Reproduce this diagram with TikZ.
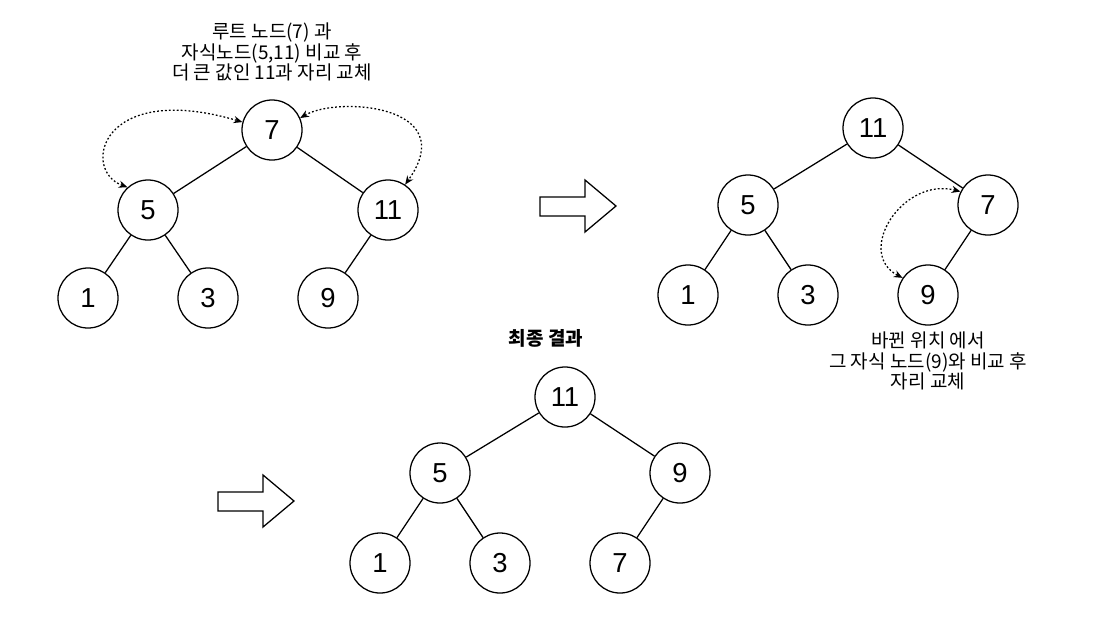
\documentclass[tikz,border=0pt]{standalone}
\usepackage{fontspec}
\setmainfont{Liberation Sans}
\newfontfamily\kr{Noto Sans CJK KR}
\usetikzlibrary{arrows.meta}

\begin{document}
\begin{tikzpicture}[x=0.025cm,y=-0.025cm,
  hnode/.style={circle,draw,line width=0.9pt,minimum size=1.5cm,inner sep=0,
    font=\fontsize{19.5}{22}\selectfont},
  edge/.style={line width=0.9pt},
  swap/.style={line width=0.9pt,dash pattern=on 1.3pt off 1.5pt,
    {Stealth[length=2.2mm,width=1.8mm]}-{Stealth[length=2.2mm,width=1.8mm]}},
  note/.style={align=center,font=\kr\fontsize{13.5}{14.4}\selectfont},
  barrow/.style={draw,line width=0.9pt,fill=white}]
\useasboundingbox (0,0) rectangle (1108,639);
% before
\node[hnode] (a7) at (272,130) {7};
\node[hnode] (a5) at (148,210) {5};
\node[hnode] (a11) at (388,210) {11};
\node[hnode] (a1) at (88,298) {1};
\node[hnode] (a3) at (208,298) {3};
\node[hnode] (a9) at (328,298) {9};
\foreach \p/\c in {a7/a5,a7/a11,a5/a1,a5/a3,a11/a9} \draw[edge] (\p)--(\c);
\draw[swap] (a5.132) .. controls +(-47,-17) and +(-142,-42) .. (a7.165);
\draw[swap] (a7.23) .. controls +(37,-22) and +(57,-80) .. (a11.56);
\node[note] (t1) at (272,52) {루트 노드(7) 과\\자식노드(5,11) 비교 후\\더 큰 값인 11과 자리 교체};
% first swap
\draw[barrow] (540,197)--(585,197)--(585,180)--(616,206)--(585,232)--(585,216)--(540,216)--cycle;
\node[hnode] (b11) at (873,128) {11};
\node[hnode] (b5) at (748,205) {5};
\node[hnode] (b7) at (988,205) {7};
\node[hnode] (b1) at (688,295) {1};
\node[hnode] (b3) at (808,295) {3};
\node[hnode] (b9) at (928,295) {9};
\foreach \p/\c in {b11/b5,b11/b7,b5/b1,b5/b3,b7/b9} \draw[edge] (\p)--(\c);
\draw[swap] (b7.154) .. controls +(-58,-15) and +(-48,-25) .. (b9.146);
\node[note] (t2) at (928,361) {바뀐 위치 에서\\그 자식 노드(9)와 비교 후\\자리 교체};
% result
\draw[barrow] (218,492)--(263,492)--(263,475)--(294,501)--(263,527)--(263,511)--(218,511)--cycle;
\node[note,font=\kr\bfseries\fontsize{13.5}{14.4}\selectfont] (t3) at (546,338) {최종 결과};
\node[hnode] (c11) at (565,397) {11};
\node[hnode] (c5) at (440,473) {5};
\node[hnode] (c9) at (680,473) {9};
\node[hnode] (c1) at (380,563) {1};
\node[hnode] (c3) at (500,563) {3};
\node[hnode] (c7) at (620,563) {7};
\foreach \p/\c in {c11/c5,c11/c9,c5/c1,c5/c3,c9/c7} \draw[edge] (\p)--(\c);
\end{tikzpicture}
\end{document}
